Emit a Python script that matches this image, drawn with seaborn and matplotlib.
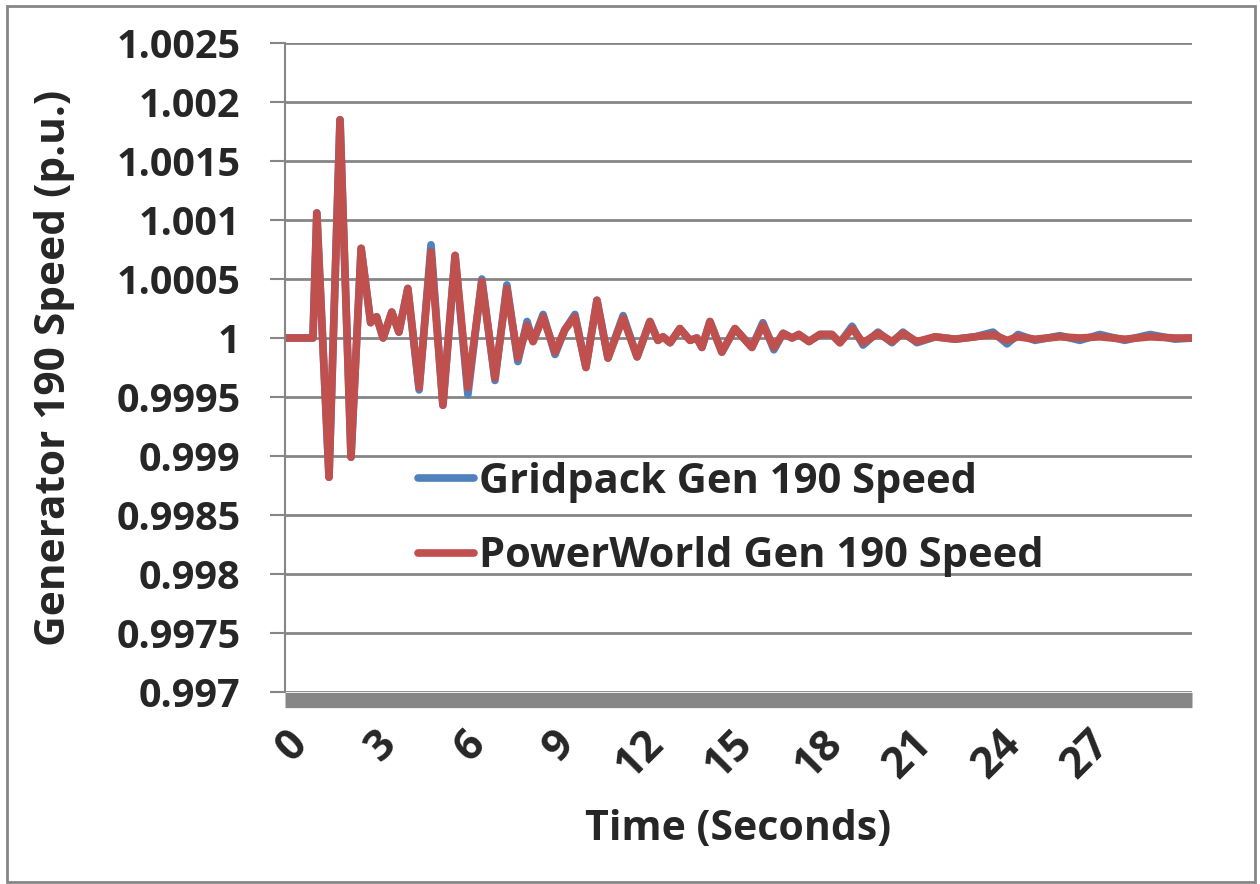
import numpy as np
import pandas as pd
import matplotlib
matplotlib.use("Agg")
import matplotlib.pyplot as plt
import seaborn as sns
from matplotlib.patches import Rectangle
from matplotlib.lines import Line2D

# ---- data ----
time_s = [0.0, 0.94, 1.07, 1.48, 1.85, 2.22, 2.56, 2.88, 3.08, 3.30, 3.59, 3.83, 4.13, 4.51,
          4.91, 5.31, 5.72, 6.15, 6.62, 7.06, 7.46, 7.83, 8.14, 8.34, 8.68, 9.08, 9.41, 9.75,
          10.12, 10.49, 10.86, 11.37, 11.84, 12.27, 12.54, 12.71, 12.95, 13.28, 13.62, 13.85,
          14.02, 14.29, 14.69, 15.13, 15.70, 16.07, 16.44, 16.75, 17.05, 17.28, 17.62, 17.99,
          18.39, 18.66, 19.07, 19.44, 19.94, 20.41, 20.78, 21.25, 21.86, 22.53, 23.20, 23.81,
          24.28, 24.65, 25.22, 26.06, 26.73, 27.40, 28.24, 29.09, 29.93, 30.50]

powerworld_speed = [1.0, 1.0, 1.00106, 0.99882, 1.00185, 0.99899, 1.00076, 1.00013, 1.00018, 1.0,
                    1.00022, 1.00005, 1.00042, 0.99958, 1.00073, 0.99943, 1.00070, 0.99958,
                    1.00048, 0.99966, 1.00042, 0.99983, 1.00011, 0.99997, 1.00018, 0.99988,
                    1.00007, 1.00018, 0.99975, 1.00032, 0.99983, 1.00017, 0.99984, 1.00014,
                    0.99998, 1.00001, 0.99996, 1.00008, 0.99998, 1.0, 0.99992, 1.00014, 0.99988,
                    1.00008, 0.99992, 1.00011, 0.99992, 1.00004, 1.0, 1.00003, 0.99997, 1.00003,
                    1.00003, 0.99996, 1.00008, 0.99996, 1.00004, 0.99997, 1.00004, 0.99997,
                    1.00001, 0.99999, 1.00001, 1.00003, 0.99998, 1.00001, 0.99999, 1.00001, 1.0,
                    1.00001, 0.99999, 1.00001, 1.0, 1.0]

gridpack_speed = [1.0, 1.0, 1.00106, 0.99882, 1.00185, 0.99899, 1.00076, 1.00013, 1.00018, 1.0,
                  1.00022, 1.00005, 1.00042, 0.99956, 1.00079, 0.99943, 1.00070, 0.99952,
                  1.00050, 0.99964, 1.00045, 0.99980, 1.00014, 0.99997, 1.00020, 0.99986,
                  1.00007, 1.00020, 0.99975, 1.00032, 0.99983, 1.00019, 0.99984, 1.00014,
                  0.99998, 1.00001, 0.99996, 1.00008, 0.99998, 1.0, 0.99992, 1.00014, 0.99988,
                  1.00008, 0.99992, 1.00013, 0.99990, 1.00004, 1.0, 1.00003, 0.99997, 1.00003,
                  1.00003, 0.99996, 1.00010, 0.99994, 1.00005, 0.99996, 1.00005, 0.99996,
                  1.00001, 0.99999, 1.00001, 1.00005, 0.99995, 1.00003, 0.99998, 1.00002, 0.99998,
                  1.00003, 0.99998, 1.00003, 0.99999, 1.0]

series_names = ["Gridpack Gen 190 Speed", "PowerWorld Gen 190 Speed"]
x_ticks = [0, 3, 6, 9, 12, 15, 18, 21, 24, 27]
y_ticks = [0.997, 0.9975, 0.998, 0.9985, 0.999, 0.9995, 1.0, 1.0005, 1.001, 1.0015, 1.002, 1.0025]
y_tick_labels = ["0.997", "0.9975", "0.998", "0.9985", "0.999", "0.9995", "1",
                 "1.0005", "1.001", "1.0015", "1.002", "1.0025"]

df = pd.concat([
    pd.DataFrame({"Time": time_s, "Speed": gridpack_speed, "Series": series_names[0]}),
    pd.DataFrame({"Time": time_s, "Speed": powerworld_speed, "Series": series_names[1]}),
])

# ---- styling ----
sns.set_theme(style="white")
plt.rcParams["font.family"] = ["Open Sans", "DejaVu Sans"]
plt.rcParams["font.weight"] = "bold"

BLUE = "#4F81BD"
RED = "#C0504D"
GRID = "#868686"
FS = 28.5
LW = 5.5

fig = plt.figure(figsize=(12.6, 8.84), dpi=100)
ax = fig.add_axes([285 / 1260, 1 - 692 / 884, 907 / 1260, (692 - 43) / 884])

sns.lineplot(data=df, x="Time", y="Speed", hue="Series", hue_order=series_names,
             palette=[BLUE, RED], linewidth=LW, ax=ax, legend=False, sort=False,
             estimator=None)
for ln in ax.lines:
    ln.set_solid_joinstyle("round")
    ln.set_solid_capstyle("round")

ax.set_xlim(0, 30.5)
ax.set_ylim(0.997, 1.0025)
ax.set_yticks(y_ticks)
ax.set_yticklabels(y_tick_labels)
ax.set_xticks(x_ticks)
ax.set_xticklabels([str(v) for v in x_ticks])

ax.yaxis.grid(True, color=GRID, linewidth=2)
ax.xaxis.grid(False)
ax.set_axisbelow(True)

for s in ["top", "right"]:
    ax.spines[s].set_visible(False)
ax.spines["left"].set_color(GRID)
ax.spines["left"].set_linewidth(1.5)
ax.spines["bottom"].set_color(GRID)
ax.spines["bottom"].set_linewidth(11)
ax.spines["bottom"].set_capstyle("butt")
ax.spines["bottom"].set_position(("outward", 5.5))

ax.tick_params(axis="y", which="major", left=True, length=11, width=1.5, color=GRID,
               pad=21, labelsize=FS)
ax.tick_params(axis="x", which="major", bottom=False, length=0, pad=16, labelsize=31)
for lab in ax.get_yticklabels():
    lab.set_fontweight("bold")
for lab in ax.get_xticklabels():
    lab.set_fontweight("bold")
    lab.set_rotation(45)
    lab.set_ha("right")
    lab.set_va("top")
    lab.set_rotation_mode("anchor")

ax.set_xlabel("Time (Seconds)", fontsize=29.5, fontweight="bold")
ax.set_ylabel("Generator 190 Speed (p.u.)", fontsize=30.5, fontweight="bold")
ax.xaxis.set_label_coords(0.5, -0.18)
ax.yaxis.set_label_coords(-0.232, 0.5)
ax.yaxis.label.set_va("bottom")

handles = [Line2D([], [], color=BLUE, linewidth=LW, solid_capstyle="round"),
           Line2D([], [], color=RED, linewidth=LW, solid_capstyle="round")]
leg = ax.legend(handles, series_names, loc="upper left",
                bbox_to_anchor=(418 / 1260, 1 - 462 / 884), bbox_transform=fig.transFigure,
                frameon=False, borderpad=0, borderaxespad=0, handlelength=1.35,
                handletextpad=0.12, labelspacing=0.8,
                prop={"size": 30, "weight": "bold"})

# chart border
fig.patches.append(Rectangle((7 / 1260, 2 / 884), 1248 / 1260, 876 / 884,
                             transform=fig.transFigure, fill=False,
                             edgecolor=GRID, linewidth=2))

fig.savefig("out.png", dpi=100)
